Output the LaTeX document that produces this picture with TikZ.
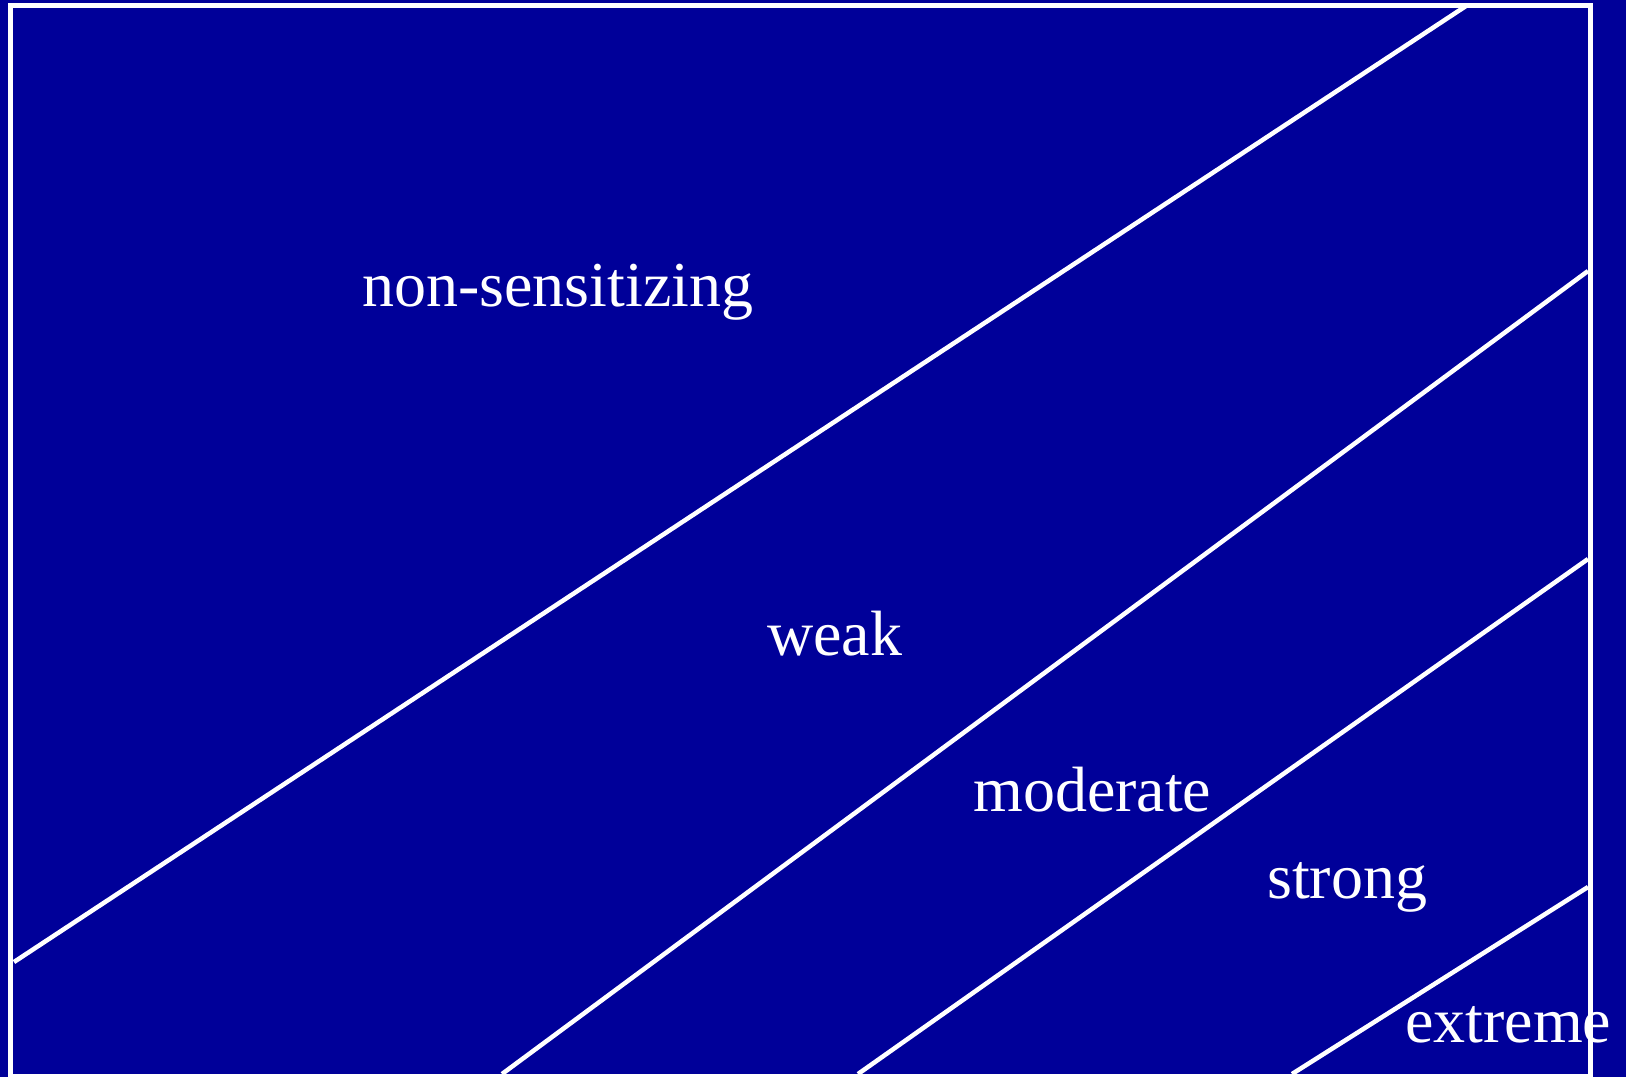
\documentclass[tikz,border=0pt]{standalone}
\usepackage{fontspec}
\setmainfont{Liberation Serif}
\definecolor{navy}{RGB}{0,0,153}
\begin{document}
\begin{tikzpicture}[x=1pt,y=-1pt,
  frameline/.style={draw=white,line width=5pt},
  divider/.style={draw=white,line width=4.5pt},
  zonelabel/.style={text=white,anchor=base west,inner sep=0pt,font=\fontsize{64}{76}\selectfont}]
\fill[navy] (0,0) rectangle (1626,1077);
\useasboundingbox (0,0) rectangle (1626,1077);
\draw[frameline] (10.5,5.5) rectangle (1590,1076);
% divider end points
\coordinate (a1) at (14,962);
\coordinate (a2) at (1466,6);
\coordinate (b1) at (502,1074);
\coordinate (b2) at (1588,271);
\coordinate (c1) at (858,1074);
\coordinate (c2) at (1588,559);
\coordinate (d1) at (1292,1074);
\coordinate (d2) at (1588,887);
\draw[divider] (a1) -- (a2);
\draw[divider] (b1) -- (b2);
\draw[divider] (c1) -- (c2);
\draw[divider] (d1) -- (d2);
% labels
\node[zonelabel] (ns) at (362,306) {non-sensitizing};
\node[zonelabel] (wk) at (767,655) {weak};
\node[zonelabel] (md) at (973,811) {moderate};
\node[zonelabel] (st) at (1267,898) {strong};
\node[zonelabel] (ex) at (1405,1042) {extreme};
\end{tikzpicture}
\end{document}
